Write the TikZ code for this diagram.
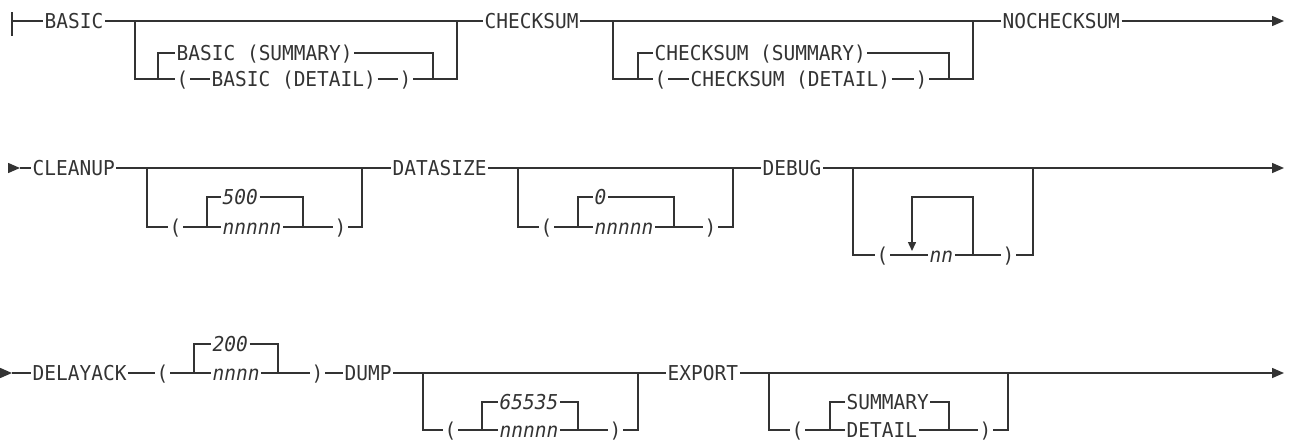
\documentclass[tikz,border=0pt]{standalone}
\usepackage{fontspec}
\newfontfamily\rr[FakeStretch=0.95]{DejaVu Sans Mono}
\usetikzlibrary{arrows.meta}
\definecolor{ink}{HTML}{333333}
\tikzset{
  t/.style={inner ysep=0pt, inner xsep=1.5pt, text height=14.9pt, text depth=0pt, anchor=west,
            font=\rr\fontsize{20.5}{21}\selectfont, text=ink},
  ti/.style={t, font=\rr\itshape\fontsize{20.5}{21}\selectfont},
  rail/.style={draw=ink, line width=1.5pt},
  endarr/.style={rail, -{Triangle[length=12pt,width=10pt]}},
  looparr/.style={rail, -{Triangle[length=9pt,width=8pt]}}
}
\begin{document}
\begin{tikzpicture}[x=1pt,y=-1pt]
\useasboundingbox (0,0) rectangle (1290,439);
% ---------------- Row 1 ----------------
\coordinate (s1) at (12,21);
\coordinate (s1t) at (12,12);
\coordinate (s1b) at (12,36);
\node[t] (basic) at (43,21) {BASIC};
\coordinate (b1L) at (135,21); \coordinate (b1LB) at (135,79);
\coordinate (b1iB) at (158,79); \coordinate (b1iT) at (158,53);
\node[t] (bsum) at (175,53) {BASIC (SUMMARY)};
\coordinate (b1rT) at (433,53); \coordinate (b1rB) at (433,79);
\node[t] (bp1) at (175,79) {(};
\node[t] (bdet) at (210,79) {BASIC (DETAIL)};
\node[t] (bp2) at (398,79) {)};
\coordinate (b1R) at (457,21); \coordinate (b1RB) at (457,79);
\node[t] (chk) at (483,21) {CHECKSUM};
\coordinate (c1L) at (613,21); \coordinate (c1LB) at (613,79);
\coordinate (c1iB) at (638,79); \coordinate (c1iT) at (638,53);
\node[t] (csum) at (653,53) {CHECKSUM (SUMMARY)};
\coordinate (c1rT) at (949,53); \coordinate (c1rB) at (949,79);
\node[t] (cp1) at (653,79) {(};
\node[t] (cdet) at (689,79) {CHECKSUM (DETAIL)};
\node[t] (cp2) at (914,79) {)};
\coordinate (c1R) at (973,21); \coordinate (c1RB) at (973,79);
\node[t] (nochk) at (1001,21) {NOCHECKSUM};
\coordinate (e1) at (1284,21);

\draw[rail] (s1t) -- (s1b);
\draw[rail] (s1) -- (basic.west);
\draw[rail] (basic.east) -- (chk.west);
\draw[rail] (b1L) -- (b1LB) -- (b1iB) -- (bp1.west);
\draw[rail] (b1iB) -- (b1iT) -- (bsum.west);
\draw[rail] (bsum.east) -- (b1rT) -- (b1rB);
\draw[rail] (bp1.east) -- (bdet.west);
\draw[rail] (bdet.east) -- (bp2.west);
\draw[rail] (bp2.east) -- (b1RB) -- (b1R);
\draw[rail] (chk.east) -- (nochk.west);
\draw[rail] (c1L) -- (c1LB) -- (c1iB) -- (cp1.west);
\draw[rail] (c1iB) -- (c1iT) -- (csum.west);
\draw[rail] (csum.east) -- (c1rT) -- (c1rB);
\draw[rail] (cp1.east) -- (cdet.west);
\draw[rail] (cdet.east) -- (cp2.west);
\draw[rail] (cp2.east) -- (c1RB) -- (c1R);
\draw[endarr] (nochk.east) -- (e1);

% ---------------- Row 2 ----------------
\coordinate (s2a) at (8,168); \coordinate (s2b) at (20,168);
\node[t] (clean) at (31,168) {CLEANUP};
\coordinate (k2L) at (147,168); \coordinate (k2LB) at (147,227);
\node[t] (kp1) at (168,227) {(};
\coordinate (k2iB) at (207,227); \coordinate (k2iT) at (207,197);
\node[ti] (k500) at (221,197) {500};
\node[ti] (kn) at (221,227) {nnnnn};
\coordinate (k2rT) at (303,197); \coordinate (k2rB) at (303,227);
\node[t] (kp2) at (333,227) {)};
\coordinate (k2R) at (362,168); \coordinate (k2RB) at (362,227);
\node[t] (dsize) at (391,168) {DATASIZE};
\coordinate (d2L) at (518,168); \coordinate (d2LB) at (518,227);
\node[t] (dp1) at (539,227) {(};
\coordinate (d2iB) at (578,227); \coordinate (d2iT) at (578,197);
\node[ti] (d0) at (593,197) {0};
\node[ti] (dn) at (593,227) {nnnnn};
\coordinate (d2rT) at (674,197); \coordinate (d2rB) at (674,227);
\node[t] (dp2) at (703,227) {)};
\coordinate (d2R) at (733,168); \coordinate (d2RB) at (733,227);
\node[t] (debug) at (761,168) {DEBUG};
\coordinate (g2L) at (853,168); \coordinate (g2LB) at (853,255);
\node[t] (gp1) at (875,255) {(};
\node[ti] (gnn) at (928,255) {nn};
\coordinate (g2lT) at (912,197); \coordinate (g2lA) at (912,251);
\coordinate (g2rT) at (973,197); \coordinate (g2rB) at (973,255);
\node[t] (gp2) at (1001,255) {)};
\coordinate (g2R) at (1033,168); \coordinate (g2RB) at (1033,255);
\coordinate (e2) at (1284,168);

\draw[endarr] (s2a) -- (s2b);
\draw[rail] (s2b) -- (clean.west);
\draw[rail] (clean.east) -- (dsize.west);
\draw[rail] (k2L) -- (k2LB) -- (kp1.west);
\draw[rail] (kp1.east) -- (kn.west);
\draw[rail] (k2iB) -- (k2iT) -- (k500.west);
\draw[rail] (k500.east) -- (k2rT) -- (k2rB);
\draw[rail] (kn.east) -- (kp2.west);
\draw[rail] (kp2.east) -- (k2RB) -- (k2R);
\draw[rail] (dsize.east) -- (debug.west);
\draw[rail] (d2L) -- (d2LB) -- (dp1.west);
\draw[rail] (dp1.east) -- (dn.west);
\draw[rail] (d2iB) -- (d2iT) -- (d0.west);
\draw[rail] (d0.east) -- (d2rT) -- (d2rB);
\draw[rail] (dn.east) -- (dp2.west);
\draw[rail] (dp2.east) -- (d2RB) -- (d2R);
\draw[endarr] (debug.east) -- (e2);
\draw[rail] (g2L) -- (g2LB) -- (gp1.west);
\draw[rail] (gp1.east) -- (gnn.west);
\draw[rail] (gnn.east) -- (gp2.west);
\draw[looparr] (g2rB) -- (g2rT) -- (g2lT) -- (g2lA);
\draw[rail] (gp2.east) -- (g2RB) -- (g2R);

% ---------------- Row 3 ----------------
\coordinate (s3a) at (0,373); \coordinate (s3b) at (12,373);
\node[t] (delay) at (31,373) {DELAYACK};
\node[t] (lp1) at (155,373) {(};
\coordinate (l3iB) at (194,373); \coordinate (l3iT) at (194,344);
\node[ti] (l200) at (211,344) {200};
\node[ti] (ln) at (211,373) {nnnn};
\coordinate (l3rT) at (278,344); \coordinate (l3rB) at (278,373);
\node[t] (lp2) at (310,373) {)};
\node[t] (dump) at (343,373) {DUMP};
\coordinate (u3L) at (423,373); \coordinate (u3LB) at (423,430);
\node[t] (up1) at (443,430) {(};
\coordinate (u3iB) at (482,430); \coordinate (u3iT) at (482,402);
\node[ti] (u65) at (498,402) {65535};
\node[ti] (un) at (498,430) {nnnnn};
\coordinate (u3rT) at (578,402); \coordinate (u3rB) at (578,430);
\node[t] (up2) at (608,430) {)};
\coordinate (u3R) at (638,373); \coordinate (u3RB) at (638,430);
\node[t] (export) at (666,373) {EXPORT};
\coordinate (x3L) at (769,373); \coordinate (x3LB) at (769,430);
\node[t] (xp1) at (790,430) {(};
\coordinate (x3iB) at (830,430); \coordinate (x3iT) at (830,402);
\node[t] (xsum) at (845,402) {SUMMARY};
\node[t] (xdet) at (845,430) {DETAIL};
\coordinate (x3rT) at (949,402); \coordinate (x3rB) at (949,430);
\node[t] (xp2) at (978,430) {)};
\coordinate (x3R) at (1008,373); \coordinate (x3RB) at (1008,430);
\coordinate (e3) at (1284,373);

\draw[endarr] (s3a) -- (s3b);
\draw[rail] (s3b) -- (delay.west);
\draw[rail] (delay.east) -- (lp1.west);
\draw[rail] (lp1.east) -- (ln.west);
\draw[rail] (l3iB) -- (l3iT) -- (l200.west);
\draw[rail] (l200.east) -- (l3rT) -- (l3rB);
\draw[rail] (ln.east) -- (lp2.west);
\draw[rail] (lp2.east) -- (dump.west);
\draw[rail] (dump.east) -- (export.west);
\draw[rail] (u3L) -- (u3LB) -- (up1.west);
\draw[rail] (up1.east) -- (un.west);
\draw[rail] (u3iB) -- (u3iT) -- (u65.west);
\draw[rail] (u65.east) -- (u3rT) -- (u3rB);
\draw[rail] (un.east) -- (up2.west);
\draw[rail] (up2.east) -- (u3RB) -- (u3R);
\draw[endarr] (export.east) -- (e3);
\draw[rail] (x3L) -- (x3LB) -- (xp1.west);
\draw[rail] (xp1.east) -- (xdet.west);
\draw[rail] (x3iB) -- (x3iT) -- (xsum.west);
\draw[rail] (xsum.east) -- (x3rT) -- (x3rB);
\draw[rail] (xdet.east) -- (xp2.west);
\draw[rail] (xp2.east) -- (x3RB) -- (x3R);
\end{tikzpicture}
\end{document}
